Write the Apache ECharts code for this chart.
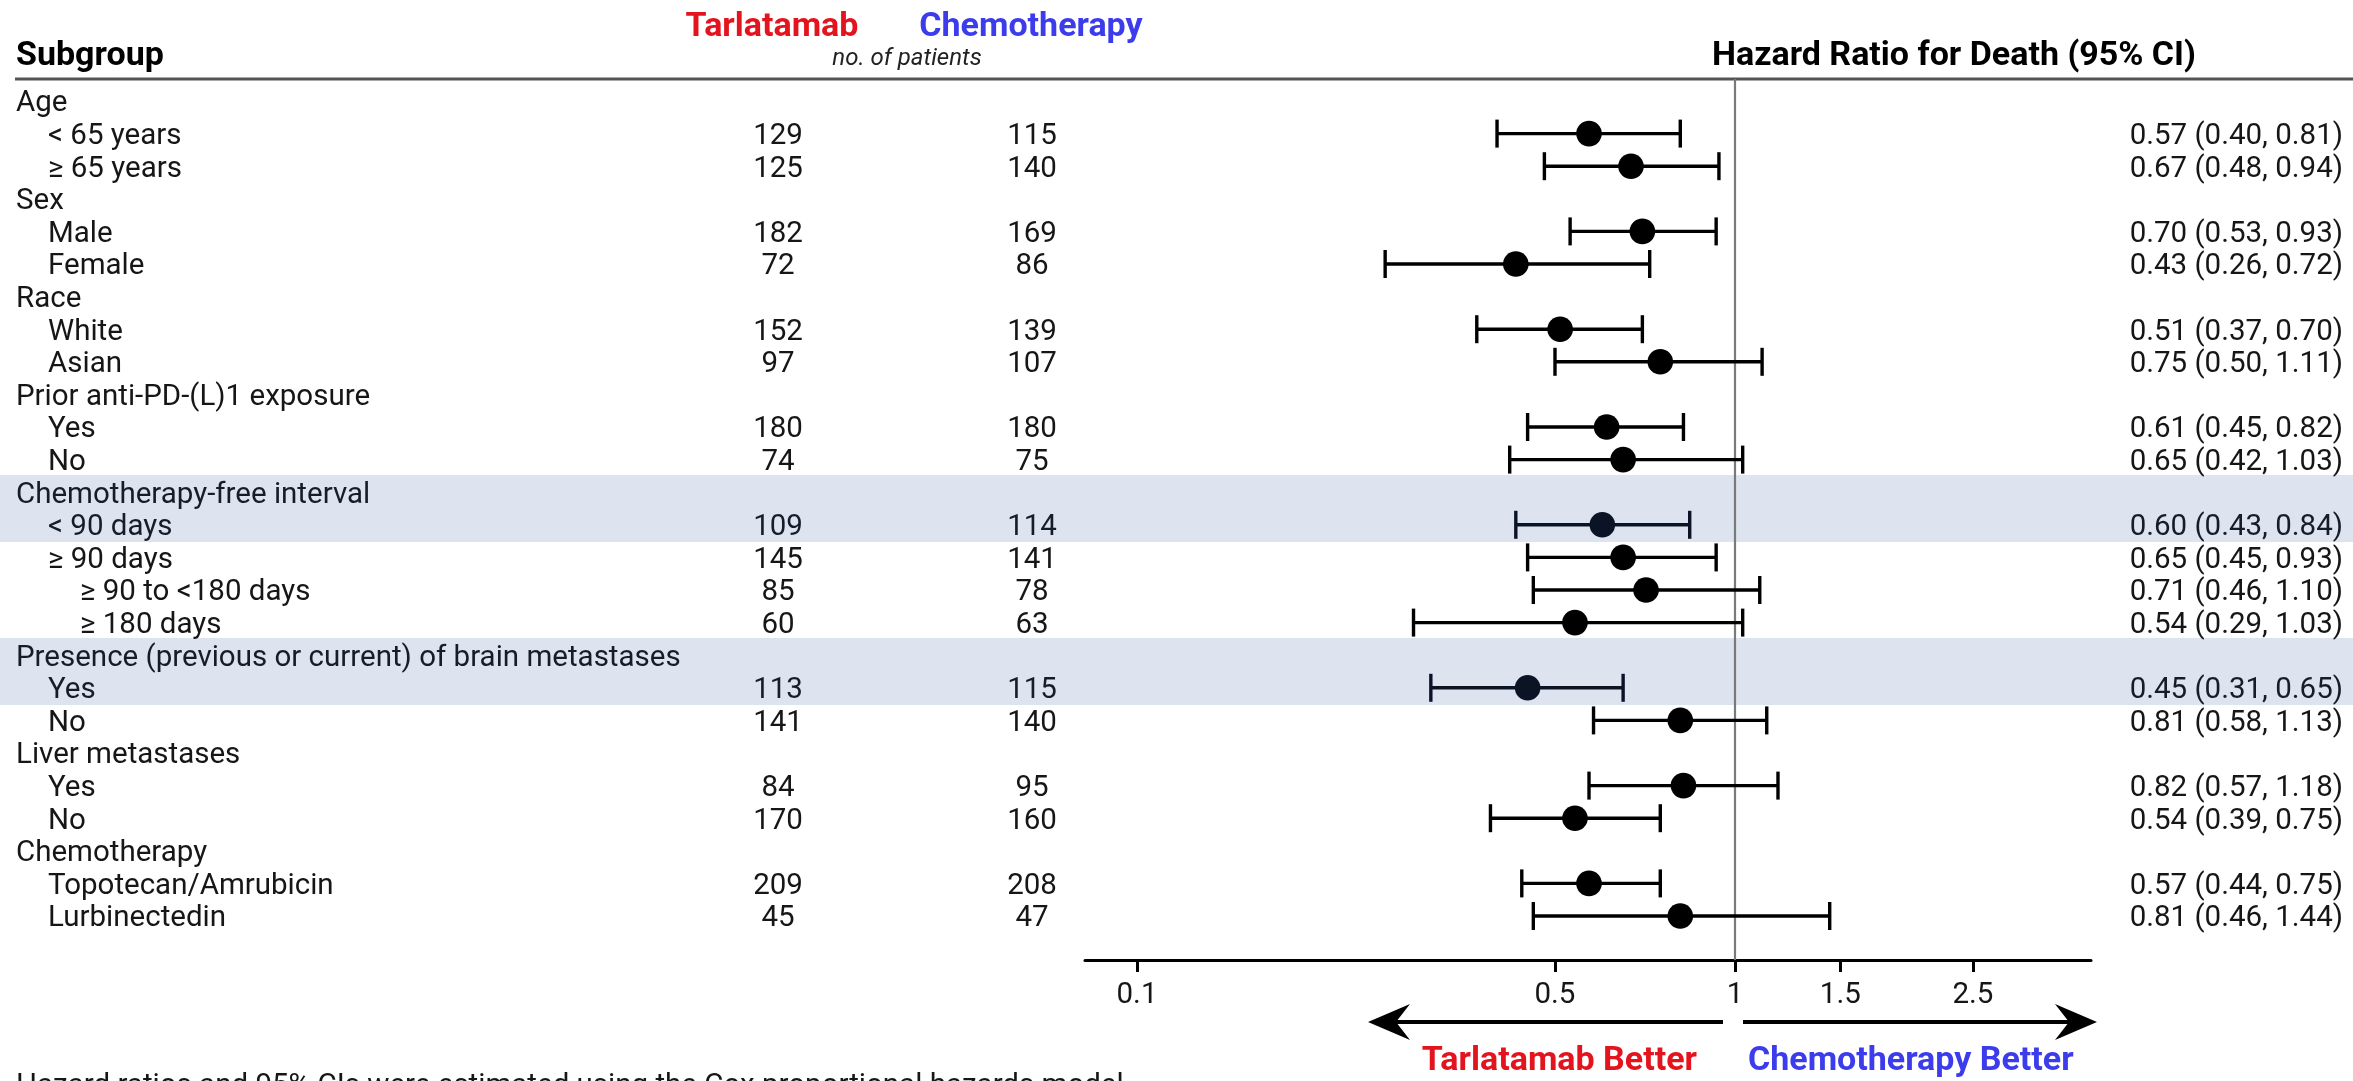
<!DOCTYPE html>
<html>
<head>
<meta charset="utf-8">
<title>Overall survival by subgroup</title>
<script src="https://cdn.jsdelivr.net/npm/echarts@6/dist/echarts.min.js"></script>
<style>
  html, body { margin: 0; padding: 0; background: #fff; }
  #chart { width: 2353px; height: 1081px; }
</style>
</head>
<body>
<div id="chart"></div>
<script>
// ---- data ----
const subgroups = [
  'Age', '< 65 years', '\u2265 65 years',
  'Sex', 'Male', 'Female',
  'Race', 'White', 'Asian',
  'Prior anti-PD-(L)1 exposure', 'Yes', 'No',
  'Chemotherapy-free interval', '< 90 days', '\u2265 90 days', '\u2265 90 to <180 days', '\u2265 180 days',
  'Presence (previous or current) of brain metastases', 'Yes', 'No',
  'Liver metastases', 'Yes', 'No',
  'Chemotherapy', 'Topotecan/Amrubicin', 'Lurbinectedin'
];
const indentLevel = [0,1,1, 0,1,1, 0,1,1, 0,1,1, 0,1,1,2,2, 0,1,1, 0,1,1, 0,1,1];
const nTarlatamab = [null,129,125, null,182,72, null,152,97, null,180,74, null,109,145,85,60, null,113,141, null,84,170, null,209,45];
const nChemo      = [null,115,140, null,169,86, null,139,107, null,180,75, null,114,141,78,63, null,115,140, null,95,160, null,208,47];
const hazardRatio = [null,0.57,0.67, null,0.70,0.43, null,0.51,0.75, null,0.61,0.65, null,0.60,0.65,0.71,0.54, null,0.45,0.81, null,0.82,0.54, null,0.57,0.81];
const ciLower     = [null,0.40,0.48, null,0.53,0.26, null,0.37,0.50, null,0.45,0.42, null,0.43,0.45,0.46,0.29, null,0.31,0.58, null,0.57,0.39, null,0.44,0.46];
const ciUpper     = [null,0.81,0.94, null,0.93,0.72, null,0.70,1.11, null,0.82,1.03, null,0.84,0.93,1.10,1.03, null,0.65,1.13, null,1.18,0.75, null,0.75,1.44];
const highlightedRows = [12, 13, 17, 18];
const xTickValues = [0.1, 0.5, 1, 1.5, 2.5];

// ---- layout ----
const W = 2353, H = 1081;
const FONT = 'Roboto, "Liberation Sans", Arial, sans-serif';
const ROW0_Y = 101, ROW_H = 32.6;            // centre of the first row, row pitch
const TEXT_DY = 3;                            // text sits a touch below the CI line
const TOP_Y = 79, AXIS_Y = 960;               // header rule, x axis line
const Y_MIN = (TOP_Y - ROW0_Y) / ROW_H;
const Y_MAX = (AXIS_Y - ROW0_Y) / ROW_H;
const PLOT_LEFT = 1085, PLOT_RIGHT = 2091;    // forest panel
const ONE_X = 1735, PX_PER_DECADE = 598;      // where HR = 1 sits, log spacing
const X_MIN = Math.pow(10, (PLOT_LEFT - ONE_X) / PX_PER_DECADE);
const X_MAX = Math.pow(10, (PLOT_RIGHT - ONE_X) / PX_PER_DECADE);
const COL_LABEL = 16, INDENT = 32;
const COL_TARL = 778, COL_CHEMO = 1032, COL_HR = 2343;
const BODY = '29.5px ' + FONT;
const TEXT = '#161616', TEXT_BAND = '#151d2b';
const RED = '#e4141e', BLUE = '#3c3cec';

const rows = subgroups.map((s, i) => i);
const forestData = rows.filter(i => hazardRatio[i] != null)
  .map(i => [hazardRatio[i], i, ciLower[i], ciUpper[i]]);

function fmt(v) { return v.toFixed(2); }
function txt(text, x, y, font, fill, align) {
  return {
    type: 'text',
    style: { text, x, y, font, fill, align, textAlign: align, verticalAlign: 'middle', textVerticalAlign: 'middle' }
  };
}
function label(text, x, y, font, fill, align) {
  return { type: 'text', x, y, silent: true,
    style: { text, font, fill, align, textAlign: align, verticalAlign: 'middle', textVerticalAlign: 'middle' } };
}

const chart = echarts.init(document.getElementById('chart'), null, { renderer: 'canvas', width: W, height: H });

const option = {
  animation: false,
  backgroundColor: '#ffffff',
  grid: [
    { left: 0, right: 0, top: TOP_Y, bottom: H - AXIS_Y },
    { left: PLOT_LEFT, right: W - PLOT_RIGHT, top: TOP_Y, bottom: H - AXIS_Y }
  ],
  xAxis: [
    { gridIndex: 0, type: 'value', min: 0, max: W, show: false },
    {
      gridIndex: 1, type: 'log', logBase: 10, min: X_MIN, max: X_MAX,
      axisLine: { show: true, onZero: false, lineStyle: { color: '#000', width: 3 } },
      axisTick: { show: true, inside: false, length: 12, lineStyle: { color: '#000', width: 3 }, customValues: xTickValues },
      axisLabel: {
        show: true, margin: 21, customValues: xTickValues,
        formatter: v => String(+Number(v).toFixed(2)),
        fontFamily: FONT, fontSize: 29.5, color: TEXT
      },
      splitLine: { show: false }, minorTick: { show: false }
    }
  ],
  yAxis: [
    { gridIndex: 0, type: 'value', inverse: true, min: Y_MIN, max: Y_MAX, show: false },
    { gridIndex: 1, type: 'value', inverse: true, min: Y_MIN, max: Y_MAX, show: false }
  ],
  series: [
    // shaded rows across the full width
    {
      type: 'custom', xAxisIndex: 0, yAxisIndex: 0, silent: true, z: 1,
      data: highlightedRows.map(i => [i]),
      encode: { y: 0 },
      renderItem: (params, api) => {
        const i = api.value(0);
        const p0 = api.coord([0, i - 0.5]);
        const p1 = api.coord([W, i + 0.5]);
        return {
          type: 'rect',
          shape: { x: p0[0], y: Math.floor(p0[1]), width: p1[0] - p0[0], height: Math.ceil(p1[1] - p0[1]) + 1 },
          style: { fill: '#dde4f0' }
        };
      }
    },
    // subgroup names, patient counts and HR text
    {
      type: 'custom', xAxisIndex: 0, yAxisIndex: 0, silent: true, z: 5,
      data: rows.map(i => [i]),
      encode: { y: 0 },
      renderItem: (params, api) => {
        const i = api.value(0);
        const y = api.coord([0, i])[1] + TEXT_DY;
        const fill = highlightedRows.includes(i) ? TEXT_BAND : TEXT;
        const children = [
          txt(subgroups[i], api.coord([COL_LABEL + INDENT * indentLevel[i], i])[0], y, BODY, fill, 'left')
        ];
        if (nTarlatamab[i] != null) children.push(txt(String(nTarlatamab[i]), api.coord([COL_TARL, i])[0], y, BODY, fill, 'center'));
        if (nChemo[i] != null) children.push(txt(String(nChemo[i]), api.coord([COL_CHEMO, i])[0], y, BODY, fill, 'center'));
        if (hazardRatio[i] != null) {
          const s = fmt(hazardRatio[i]) + ' (' + fmt(ciLower[i]) + ', ' + fmt(ciUpper[i]) + ')';
          children.push(txt(s, api.coord([COL_HR, i])[0], y, BODY, fill, 'right'));
        }
        return { type: 'group', children };
      }
    },
    // reference line at HR = 1
    {
      type: 'line', xAxisIndex: 1, yAxisIndex: 1, silent: true, z: 2,
      data: [[1, Y_MIN], [1, Y_MAX]],
      symbol: 'none', lineStyle: { color: '#7a7a7a', width: 2.2 }
    },
    // hazard ratios with 95% confidence intervals
    {
      type: 'custom', xAxisIndex: 1, yAxisIndex: 1, silent: true, z: 10, clip: false,
      data: forestData,
      encode: { x: [0, 2, 3], y: 1 },
      renderItem: (params, api) => {
        const row = api.value(1);
        const c = api.coord([api.value(0), row]);
        const l = api.coord([api.value(2), row]);
        const h = api.coord([api.value(3), row]);
        const ink = highlightedRows.includes(row) ? '#0b1424' : '#000';
        const cap = 14;
        const ls = { stroke: ink, lineWidth: 3.4 };
        return {
          type: 'group',
          children: [
            { type: 'line', shape: { x1: l[0], y1: c[1], x2: h[0], y2: c[1] }, style: ls },
            { type: 'line', shape: { x1: l[0], y1: c[1] - cap, x2: l[0], y2: c[1] + cap }, style: ls },
            { type: 'line', shape: { x1: h[0], y1: c[1] - cap, x2: h[0], y2: c[1] + cap }, style: ls },
            { type: 'circle', shape: { cx: c[0], cy: c[1], r: 12.8 }, style: { fill: ink } }
          ]
        };
      }
    }
  ],
  graphic: [
    // column headers
    label('Subgroup', 16, 56, 'bold 34px ' + FONT, '#000', 'left'),
    label('Tarlatamab', 772, 27, 'bold 34px ' + FONT, RED, 'center'),
    label('Chemotherapy', 1031, 27, 'bold 34px ' + FONT, BLUE, 'center'),
    label('no. of patients', 907, 59, 'italic 24px ' + FONT, '#222', 'center'),
    label('Hazard Ratio for Death (95% CI)', 2196, 56, 'bold 34px ' + FONT, '#000', 'right'),
    // header rule
    { type: 'line', silent: true, shape: { x1: 15, y1: TOP_Y, x2: W, y2: TOP_Y }, style: { stroke: '#555', lineWidth: 3 } },
    // direction arrows
    { type: 'line', silent: true, shape: { x1: 1723, y1: 1022, x2: 1395, y2: 1022 }, style: { stroke: '#000', lineWidth: 4 } },
    { type: 'polygon', silent: true, shape: { points: [[1368, 1022], [1410, 1004], [1396, 1022], [1410, 1040]] }, style: { fill: '#000' } },
    { type: 'line', silent: true, shape: { x1: 1743, y1: 1022, x2: 2072, y2: 1022 }, style: { stroke: '#000', lineWidth: 4 } },
    { type: 'polygon', silent: true, shape: { points: [[2097, 1022], [2055, 1004], [2069, 1022], [2055, 1040]] }, style: { fill: '#000' } },
    label('Tarlatamab Better', 1697, 1061, 'bold 34px ' + FONT, RED, 'right'),
    label('Chemotherapy Better', 1748, 1061, 'bold 34px ' + FONT, BLUE, 'left'),
    // footnote
    label('Hazard ratios and 95% CIs were estimated using the Cox proportional hazards model.', 16, 1087, BODY, TEXT, 'left')
  ]
};

chart.setOption(option);
</script>
</body>
</html>
